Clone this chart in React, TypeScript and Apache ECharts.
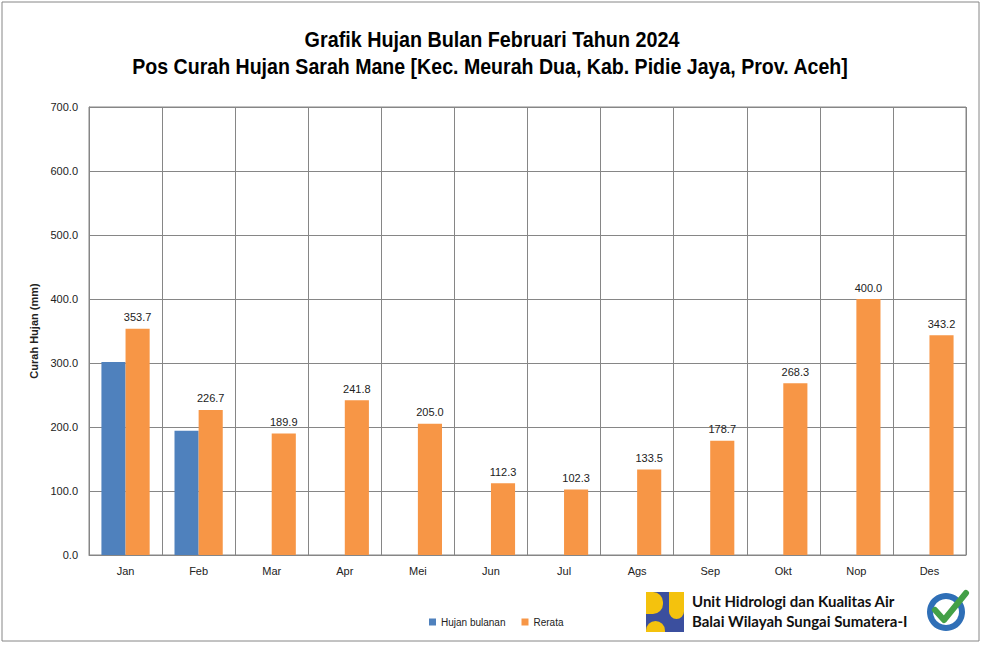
import React, { useEffect, useRef } from "react";
import * as echarts from "echarts";

const months = ["Jan", "Feb", "Mar", "Apr", "Mei", "Jun", "Jul", "Ags", "Sep", "Okt", "Nop", "Des"];
const hujanBulanan: (number | null)[] = [301.5, 194.0, null, null, null, null, null, null, null, null, null, null];
const rerata = [353.7, 226.7, 189.9, 241.8, 205.0, 112.3, 102.3, 133.5, 178.7, 268.3, 400.0, 343.2];
const yTicks = { min: 0, max: 700, interval: 100 };

const titleLine1 = "Grafik Hujan Bulan Februari Tahun 2024";
const titleLine2 = "Pos Curah Hujan Sarah Mane [Kec. Meurah Dua, Kab. Pidie Jaya, Prov. Aceh]";
const orgLine1 = "Unit Hidrologi dan Kualitas Air";
const orgLine2 = "Balai Wilayah Sungai Sumatera-I";

const arial = "'Liberation Sans', Arial, sans-serif";

function measure(text: string, font: string): number {
  const c = document.createElement("canvas").getContext("2d");
  if (!c) return 0;
  c.font = font;
  return c.measureText(text).width;
}

export default function App() {
  const ref = useRef<HTMLDivElement>(null);
  useEffect(() => {
    document.body.style.margin = "0";
    const chart = echarts.init(ref.current!, null, { renderer: "svg" });
    const titleFont = "bold 22px 'Liberation Sans'";
    const w1 = measure(titleLine1, titleFont) || 400;
    const w2 = measure(titleLine2, titleFont) || 800;
    const s1 = 375 / w1;
    const s2 = 717 / w2;
    chart.setOption({
      animation: false,
      backgroundColor: "#ffffff",
      textStyle: { fontFamily: arial },
      grid: { left: 89, right: 18, top: 107, bottom: 90, show: true, borderColor: "#868686", borderWidth: 1 },
      legend: {
        left: 424,
        top: 612,
        itemWidth: 7,
        itemHeight: 7,
        itemGap: 16,
        icon: "rect",
        textStyle: { fontSize: 10, color: "#222", fontFamily: arial },
        data: ["Hujan bulanan", "Rerata"],
      },
      xAxis: {
        type: "category",
        data: months,
        axisLine: { lineStyle: { color: "#868686" } },
        axisTick: { show: false },
        axisLabel: { fontSize: 11, color: "#222", margin: 10 },
        splitLine: { show: true, lineStyle: { color: "#868686", width: 1 } },
      },
      yAxis: {
        type: "value",
        min: yTicks.min,
        max: yTicks.max,
        interval: yTicks.interval,
        name: "Curah Hujan (mm)",
        nameLocation: "middle",
        nameGap: 35,
        nameTextStyle: { fontSize: 11, fontWeight: "bold", color: "#222" },
        axisLine: { show: true, lineStyle: { color: "#868686" } },
        axisTick: { show: false },
        axisLabel: { fontSize: 11, color: "#222", margin: 11, formatter: (v: number) => v.toFixed(1) },
        splitLine: { show: true, lineStyle: { color: "#868686", width: 1 } },
      },
      series: [
        {
          name: "Hujan bulanan",
          type: "bar",
          data: hujanBulanan,
          itemStyle: { color: "#4f81bd" },
          barGap: "0%",
          barCategoryGap: "34%",
        },
        {
          name: "Rerata",
          type: "bar",
          data: rerata,
          itemStyle: { color: "#f79646" },
          barGap: "0%",
          barCategoryGap: "34%",
          label: {
            show: true,
            position: "top",
            distance: 6,
            fontSize: 11,
            color: "#222",
            formatter: (p: any) => Number(p.value).toFixed(1),
          },
        },
      ],
      graphic: [
        { type: "rect", shape: { x: 2, y: 2, width: 977, height: 639 }, style: { fill: "none", stroke: "#868686", lineWidth: 1 }, silent: true },
        { type: "text", x: 492, y: 39, scaleX: s1, style: { text: titleLine1, fontSize: 22, fontWeight: "bold", fontFamily: arial, fill: "#000", align: "center", verticalAlign: "middle" } },
        { type: "text", x: 490, y: 66, scaleX: s2, style: { text: titleLine2, fontSize: 22, fontWeight: "bold", fontFamily: arial, fill: "#000", align: "center", verticalAlign: "middle" } },
        // PU logo
        { type: "rect", shape: { x: 646, y: 592, width: 38, height: 40 }, style: { fill: "#3b4f9e" } },
        { type: "rect", shape: { x: 646, y: 592, width: 17, height: 22, r: [0, 10, 10, 0] }, style: { fill: "#f4c20d" } },
        { type: "rect", shape: { x: 646, y: 621, width: 19, height: 11, r: [10, 10, 0, 0] }, style: { fill: "#f4c20d" } },
        { type: "rect", shape: { x: 669, y: 592, width: 15, height: 27, r: [0, 0, 8, 8] }, style: { fill: "#f4c20d" } },
        { type: "text", x: 692, y: 601, style: { text: orgLine1, fontSize: 15, fontWeight: "bold", fontFamily: "Lato, 'Open Sans', sans-serif", fill: "#111", verticalAlign: "middle" } },
        { type: "text", x: 692, y: 621, style: { text: orgLine2, fontSize: 15, fontWeight: "bold", fontFamily: "Lato, 'Open Sans', sans-serif", fill: "#111", verticalAlign: "middle" } },
        // ISO badge
        { type: "circle", shape: { cx: 946, cy: 612, r: 19 }, style: { fill: "#2f6fb7" } },
        { type: "circle", shape: { cx: 946, cy: 612, r: 13 }, style: { fill: "#ffffff" } },
        { type: "polyline", shape: { points: [[935, 610], [944, 620], [966, 593]] }, style: { stroke: "#43a047", lineWidth: 6, fill: "none", lineJoin: "round", lineCap: "round" } },
      ],
    });
    return () => chart.dispose();
  }, []);
  return <div ref={ref} style={{ position: "absolute", left: 0, top: 0, width: 984, height: 645 }} />;
}
